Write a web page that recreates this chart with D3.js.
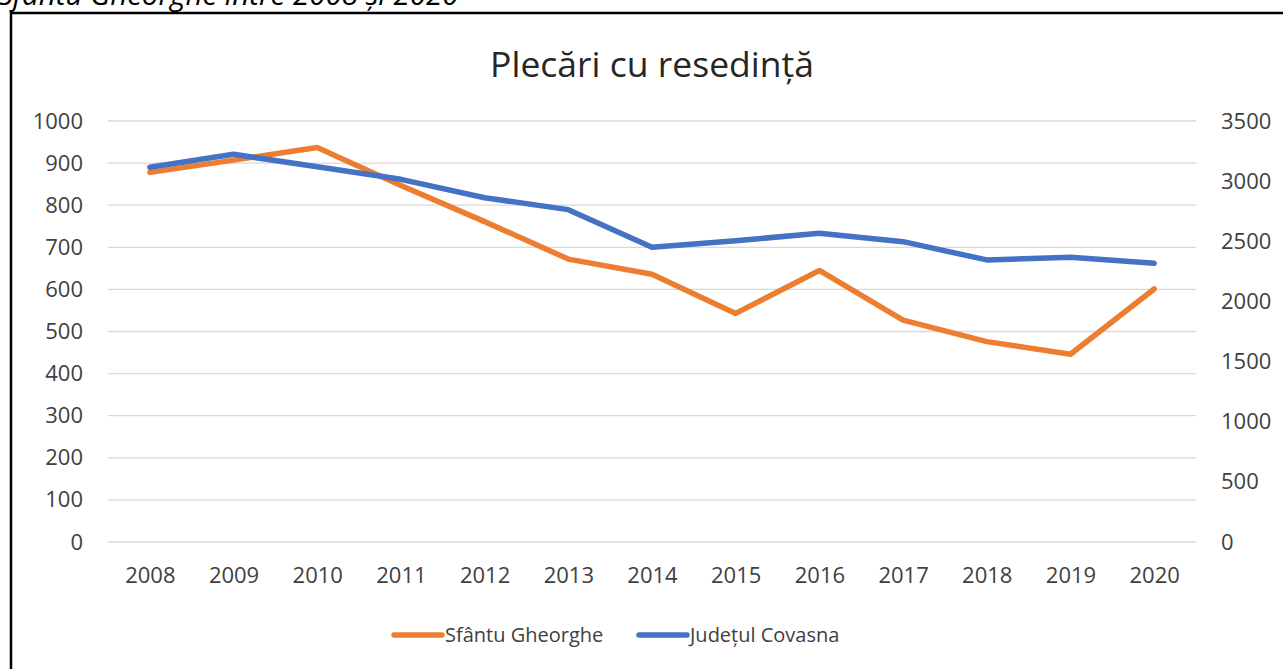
<!DOCTYPE html>
<html>
<head>
<meta charset="utf-8">
<script src="https://cdn.jsdelivr.net/npm/d3@7"></script>
<style>
  body { margin: 0; background: #fff; }
  svg { display: block; }
</style>
</head>
<body>
<div id="root"></div>
<script>
const width = 1283;
const height = 669;

// data
const years = ['2008', '2009', '2010', '2011', '2012', '2013', '2014', '2015', '2016', '2017', '2018', '2019', '2020'];
const sfantuGheorghe = [878, 907, 937, 847, 761, 672, 636, 543, 645, 527, 476, 446, 601];
const judetulCovasna = [3115, 3223, 3120, 3015, 2862, 2763, 2450, 2505, 2566, 2497, 2345, 2367, 2317];
const leftTicks = [0, 100, 200, 300, 400, 500, 600, 700, 800, 900, 1000];
const rightTicks = [0, 500, 1000, 1500, 2000, 2500, 3000, 3500];

const orange = '#ED7D31';
const blue = '#4472C4';
const textColor = '#404040';
const font = '"Open Sans", sans-serif';

const plot = {left: 108, right: 1196, top: 121, bottom: 542};

const svg = d3.select('#root')
    .append('svg')
    .attr('width', width)
    .attr('height', height);

// caption above the box (cut off at the top)
svg.append('text')
    .attr('x', -2)
    .attr('y', 5)
    .attr('font-family', font)
    .attr('font-style', 'italic')
    .attr('font-size', 29.5)
    .attr('fill', '#000')
    .text('Sfântu Gheorghe între 2008 și 2020');

// frame
svg.append('rect')
    .attr('x', 11)
    .attr('y', 13)
    .attr('width', width + 10)
    .attr('height', height + 10)
    .attr('fill', 'none')
    .attr('stroke', '#000')
    .attr('stroke-width', 2.5);

const x = d3.scalePoint()
    .domain(years)
    .range([plot.left, plot.right])
    .padding(0.5);

const yLeft = d3.scaleLinear().domain([0, 1000]).range([plot.bottom, plot.top]);
const yRight = d3.scaleLinear().domain([0, 3500]).range([plot.bottom, plot.top]);

// gridlines
svg.append('g')
    .selectAll('line')
    .data(leftTicks)
    .join('line')
    .attr('x1', plot.left)
    .attr('x2', plot.right)
    .attr('y1', d => yLeft(d))
    .attr('y2', d => yLeft(d))
    .attr('stroke', '#d9d9d9')
    .attr('stroke-width', 1.3);

// left axis
const gLeft = svg.append('g')
    .attr('transform', 'translate(83,0)')
    .call(d3.axisLeft(yLeft).tickValues(leftTicks).tickFormat(d3.format('d')).tickSize(0).tickPadding(0));
gLeft.select('.domain').remove();

// right axis
const gRight = svg.append('g')
    .attr('transform', 'translate(1221,0)')
    .call(d3.axisRight(yRight).tickValues(rightTicks).tickFormat(d3.format('d')).tickSize(0).tickPadding(0));
gRight.select('.domain').remove();

// bottom axis
const gBottom = svg.append('g')
    .attr('transform', `translate(0,${plot.bottom + 25})`)
    .call(d3.axisBottom(x).tickSize(0).tickPadding(0));
gBottom.select('.domain').remove();

svg.selectAll('.tick text')
    .attr('font-family', font)
    .attr('font-size', 22)
    .attr('fill', textColor);

// title
svg.append('text')
    .attr('x', 652)
    .attr('y', 77)
    .attr('text-anchor', 'middle')
    .attr('font-family', font)
    .attr('font-size', 35.5)
    .attr('fill', '#262626')
    .text('Plecări cu resedință');

// lines
const lineLeft = d3.line()
    .x((d, i) => x(years[i]))
    .y(d => yLeft(d));
const lineRight = d3.line()
    .x((d, i) => x(years[i]))
    .y(d => yRight(d));

svg.append('path')
    .datum(sfantuGheorghe)
    .attr('d', lineLeft)
    .attr('fill', 'none')
    .attr('stroke', orange)
    .attr('stroke-width', 5.5)
    .attr('stroke-linejoin', 'round')
    .attr('stroke-linecap', 'round');

svg.append('path')
    .datum(judetulCovasna)
    .attr('d', lineRight)
    .attr('fill', 'none')
    .attr('stroke', blue)
    .attr('stroke-width', 5.5)
    .attr('stroke-linejoin', 'round')
    .attr('stroke-linecap', 'round');

// legend
const legendItems = [
    {name: 'Sfântu Gheorghe', color: orange, x: 394},
    {name: 'Județul Covasna', color: blue, x: 639}
];
const legend = svg.append('g')
    .selectAll('g')
    .data(legendItems)
    .join('g')
    .attr('transform', d => `translate(${d.x},635)`);

legend.append('line')
    .attr('x1', 0)
    .attr('x2', 48)
    .attr('stroke', d => d.color)
    .attr('stroke-width', 5.5)
    .attr('stroke-linecap', 'round');

legend.append('text')
    .attr('x', 51)
    .attr('y', 7)
    .attr('font-family', font)
    .attr('font-size', 20)
    .attr('fill', textColor)
    .text(d => d.name);
</script>
</body>
</html>
